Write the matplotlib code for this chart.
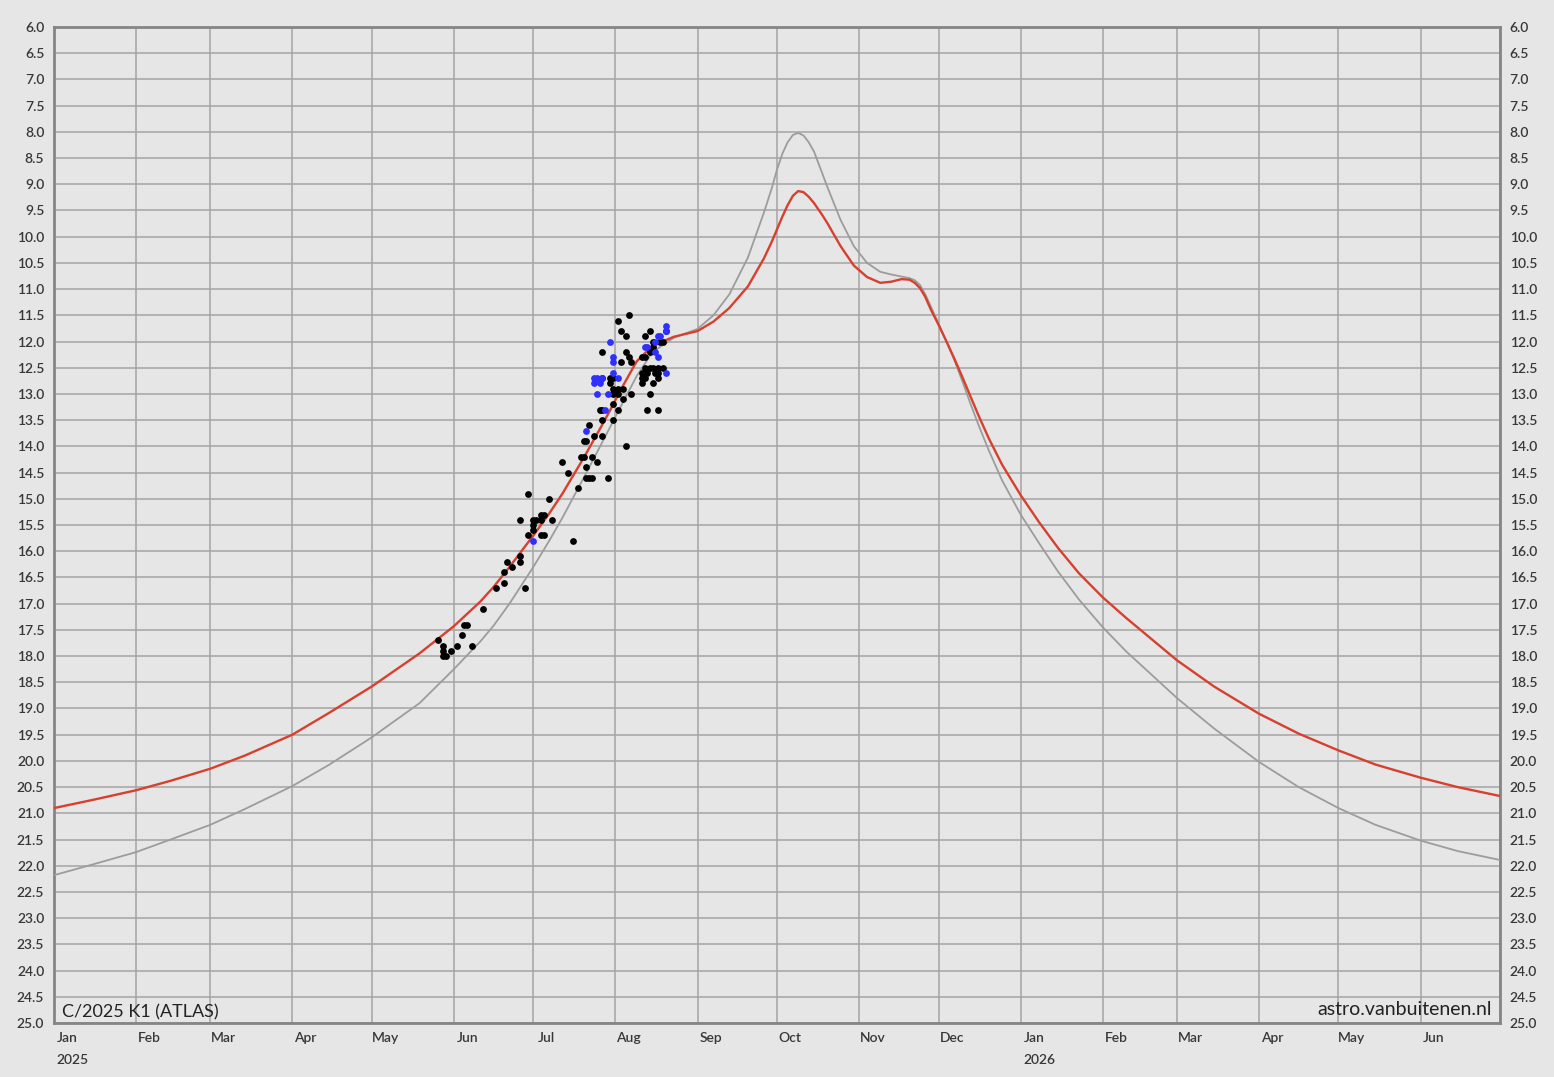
import numpy as np
import matplotlib
matplotlib.use('Agg')
import matplotlib.pyplot as plt
import matplotlib.dates as mdates
import matplotlib.transforms as mtransforms
from matplotlib.ticker import MultipleLocator, FormatStrFormatter, NullFormatter

# model curves (sampled from the chart)
curve_dates = [
    "2025-01-01", "2025-01-16", "2025-02-01", "2025-02-14", "2025-03-01", "2025-03-14",
    "2025-04-01", "2025-04-15", "2025-05-01", "2025-05-19", "2025-06-01", "2025-06-11",
    "2025-06-16", "2025-06-22", "2025-07-01", "2025-07-07", "2025-07-12", "2025-07-20",
    "2025-07-26", "2025-07-30", "2025-08-03", "2025-08-09", "2025-08-15", "2025-08-23",
    "2025-09-01", "2025-09-07", "2025-09-13", "2025-09-20", "2025-09-26", "2025-09-29",
    "2025-10-01", "2025-10-03", "2025-10-05", "2025-10-07", "2025-10-09", "2025-10-11",
    "2025-10-13", "2025-10-15", "2025-10-18", "2025-10-20", "2025-10-25", "2025-10-30",
    "2025-11-04", "2025-11-09", "2025-11-13", "2025-11-17", "2025-11-20", "2025-11-22",
    "2025-11-24", "2025-11-26", "2025-11-28", "2025-12-01", "2025-12-04", "2025-12-07",
    "2025-12-10", "2025-12-13", "2025-12-16", "2025-12-20", "2025-12-25",
    "2026-01-01", "2026-01-08", "2026-01-15", "2026-01-23", "2026-02-01", "2026-02-10",
    "2026-02-15", "2026-03-01", "2026-03-15", "2026-04-01", "2026-04-16", "2026-05-01",
    "2026-05-15", "2026-06-01", "2026-06-15", "2026-07-01",
]
red_mag = [
    20.90, 20.74, 20.56, 20.38, 20.15, 19.90,
    19.50, 19.08, 18.58, 17.95, 17.43, 16.96,
    16.68, 16.30, 15.70, 15.28, 14.90, 14.22,
    13.68, 13.31, 12.92, 12.38, 12.08, 11.91,
    11.80, 11.62, 11.36, 10.95, 10.42, 10.10,
    9.86, 9.62, 9.40, 9.22, 9.13, 9.15,
    9.24, 9.36, 9.58, 9.74, 10.18, 10.55,
    10.77, 10.88, 10.86, 10.81, 10.82, 10.88,
    10.98, 11.15, 11.38, 11.68, 12.00, 12.33,
    12.68, 13.04, 13.40, 13.85, 14.35,
    14.93, 15.45, 15.93, 16.42, 16.88, 17.28,
    17.49, 18.08, 18.58, 19.10, 19.48, 19.80,
    20.07, 20.32, 20.50, 20.67,
]
gray_mag = [
    22.18, 21.97, 21.74, 21.50, 21.22, 20.92,
    20.48, 20.07, 19.55, 18.90, 18.25, 17.72,
    17.42, 17.00, 16.30, 15.80, 15.36, 14.60,
    14.02, 13.63, 13.24, 12.66, 12.20, 11.93,
    11.76, 11.50, 11.10, 10.40, 9.55, 9.08,
    8.72, 8.42, 8.20, 8.06, 8.02, 8.07,
    8.20, 8.38, 8.78, 9.05, 9.68, 10.18,
    10.50, 10.67, 10.72, 10.76, 10.79, 10.83,
    10.92, 11.10, 11.32, 11.66, 12.00, 12.36,
    12.76, 13.18, 13.58, 14.08, 14.65,
    15.30, 15.85, 16.38, 16.92, 17.45, 17.92,
    18.15, 18.80, 19.38, 20.02, 20.50, 20.90,
    21.22, 21.52, 21.72, 21.89,
]

# observations
black_dates = [
    "2025-05-26", "2025-05-28", "2025-05-28", "2025-05-28", "2025-05-29", "2025-05-31",
    "2025-06-02", "2025-06-04", "2025-06-05", "2025-06-06", "2025-06-08", "2025-06-12",
    "2025-06-17", "2025-06-20", "2025-06-20", "2025-06-21", "2025-06-23", "2025-06-26",
    "2025-06-26", "2025-06-28",
    "2025-06-26", "2025-06-29", "2025-06-29", "2025-07-01", "2025-07-01", "2025-07-01",
    "2025-07-02", "2025-07-04", "2025-07-04", "2025-07-05", "2025-07-04", "2025-07-05",
    "2025-07-07", "2025-07-08",
    "2025-07-12", "2025-07-14", "2025-07-16", "2025-07-18", "2025-07-19", "2025-07-20",
    "2025-07-20", "2025-07-21", "2025-07-21", "2025-07-21", "2025-07-22", "2025-07-23",
    "2025-07-23", "2025-07-25", "2025-07-29",
    "2025-08-05", "2025-07-24", "2025-07-27", "2025-07-22", "2025-07-27", "2025-07-31",
    "2025-07-26", "2025-07-27", "2025-08-02", "2025-08-13", "2025-08-17",
    "2025-07-31", "2025-08-04", "2025-07-31", "2025-08-02", "2025-08-07", "2025-08-14",
    "2025-07-30", "2025-07-31", "2025-08-02", "2025-08-04", "2025-07-30", "2025-07-31",
    "2025-07-27",
    "2025-08-12", "2025-08-14", "2025-08-15", "2025-08-17", "2025-08-19",
    "2025-08-11", "2025-08-13", "2025-08-16", "2025-08-17",
    "2025-08-11", "2025-08-12", "2025-08-17", "2025-08-11", "2025-08-15",
    "2025-08-03", "2025-08-07", "2025-08-11", "2025-08-12", "2025-08-14", "2025-08-05",
    "2025-08-06", "2025-07-27",
    "2025-08-15", "2025-08-15", "2025-08-18", "2025-08-19", "2025-08-20", "2025-08-12",
    "2025-08-14", "2025-08-05", "2025-08-03", "2025-08-02", "2025-08-06",
]
black_mag = [
    17.7, 17.8, 17.9, 18.0, 18.0, 17.9, 17.8, 17.6, 17.4, 17.4, 17.8, 17.1,
    16.7, 16.6, 16.4, 16.2, 16.3, 16.1, 16.2, 16.7,
    15.4, 15.7, 14.9, 15.6, 15.5, 15.4, 15.4, 15.4, 15.7, 15.7, 15.3, 15.3, 15.0, 15.4,
    14.3, 14.5, 15.8, 14.8, 14.2, 14.2, 13.9, 13.9, 14.4, 14.6, 14.6, 14.6, 14.2, 14.3, 14.6,
    14.0, 13.8, 13.8, 13.6, 13.5, 13.5,
    13.3, 13.3, 13.3, 13.3, 13.3,
    13.2, 13.1, 13.0, 13.0, 13.0, 13.0,
    12.8, 12.9, 12.9, 12.9, 12.7, 12.7, 12.7,
    12.5, 12.5, 12.5, 12.5, 12.5,
    12.6, 12.6, 12.6, 12.6,
    12.7, 12.7, 12.7, 12.8, 12.8,
    12.4, 12.4, 12.3, 12.3, 12.2, 12.2, 12.3, 12.2,
    12.0, 12.1, 12.0, 12.0, 11.8, 11.9, 11.8, 11.9, 11.8, 11.6, 11.5,
]
blue_dates = [
    "2025-07-24", "2025-07-25", "2025-07-27", "2025-07-24", "2025-07-26", "2025-07-31",
    "2025-08-02", "2025-07-25", "2025-07-29", "2025-07-28", "2025-07-21", "2025-07-01",
    "2025-07-30", "2025-07-31", "2025-07-31", "2025-08-20", "2025-08-20", "2025-08-18",
    "2025-08-17", "2025-08-16", "2025-08-12", "2025-08-13", "2025-08-16", "2025-08-17",
    "2025-08-20",
]
blue_mag = [
    12.7, 12.7, 12.7, 12.8, 12.8, 12.6, 12.7, 13.0, 13.0, 13.3, 13.7, 15.8,
    12.0, 12.3, 12.4, 11.7, 11.8, 11.9, 11.9, 12.0, 12.1, 12.1, 12.2, 12.3, 12.6,
]

year_labels = ["2025", "2026"]
comet_name = "C/2025 K1 (ATLAS)"
site = "astro.vanbuitenen.nl"

plt.rcParams['font.family'] = ['Lato', 'DejaVu Sans']

bg = '#e6e6e6'
txt = '#383838'
fig = plt.figure(figsize=(15.54, 10.77), dpi=100, facecolor=bg)
ax = fig.add_axes([54 / 1554, 1 - 1023 / 1077, 1446 / 1554, 996 / 1077])
ax.set_facecolor(bg)

cd = np.array(curve_dates, dtype='datetime64[D]')
ax.plot(cd, gray_mag, color='#9c9c9c', lw=1.3, zorder=3, solid_joinstyle='round')
ax.plot(cd, red_mag, color='#d7402e', lw=1.7, zorder=4, solid_joinstyle='round')
ax.scatter(np.array(black_dates, dtype='datetime64[D]'), black_mag, s=24, c='black', lw=0, zorder=5)
ax.scatter(np.array(blue_dates, dtype='datetime64[D]'), blue_mag, s=24, c='#2f2fff', lw=0, zorder=6)

ax.set_xlim(np.datetime64('2025-01-01'), np.datetime64('2026-07-01'))
ax.set_ylim(25, 6)

# y axis on both sides
ax.yaxis.set_major_locator(MultipleLocator(0.5))
ax.yaxis.set_major_formatter(FormatStrFormatter('%.1f'))
ax.tick_params(axis='y', left=True, right=True, labelleft=True, labelright=True,
               length=0, pad=7, labelsize=10, labelcolor=txt)

# month grid lines at the 1st, labels a few days later
ax.xaxis.set_major_locator(mdates.MonthLocator(bymonthday=1))
ax.xaxis.set_major_formatter(NullFormatter())
ax.xaxis.set_minor_locator(mdates.MonthLocator(bymonthday=6))
ax.xaxis.set_minor_formatter(mdates.DateFormatter('%b'))
ax.tick_params(axis='x', which='both', length=0)
ax.tick_params(axis='x', which='minor', pad=6.5, labelsize=10, labelcolor=txt)

fig.canvas.draw()
for lab in ax.yaxis.get_ticklabels(which='both') + ax.xaxis.get_ticklabels(which='minor'):
    lab.set_fontweight(600)

ax.set_axisbelow(True)
ax.grid(True, which='major', color='#a4a4a4', lw=1.1)
ax.grid(False, which='minor')

for sp in ax.spines.values():
    sp.set_color('#858585')
    sp.set_linewidth(2)

trans = mtransforms.blended_transform_factory(ax.transData, ax.transAxes)
for yr in year_labels:
    ax.text(mdates.date2num(np.datetime64(yr + '-01-02')), -0.031, yr, transform=trans,
            ha='left', va='top', fontsize=10, color=txt, fontweight=600)

ax.text(0.0055, 0.006, comet_name, transform=ax.transAxes, ha='left', va='baseline',
        fontsize=13, color='#222222')
ax.text(0.9945, 0.008, site, transform=ax.transAxes, ha='right', va='baseline',
        fontsize=14, color='#222222')

fig.savefig('out.png', dpi=100, facecolor=bg)
